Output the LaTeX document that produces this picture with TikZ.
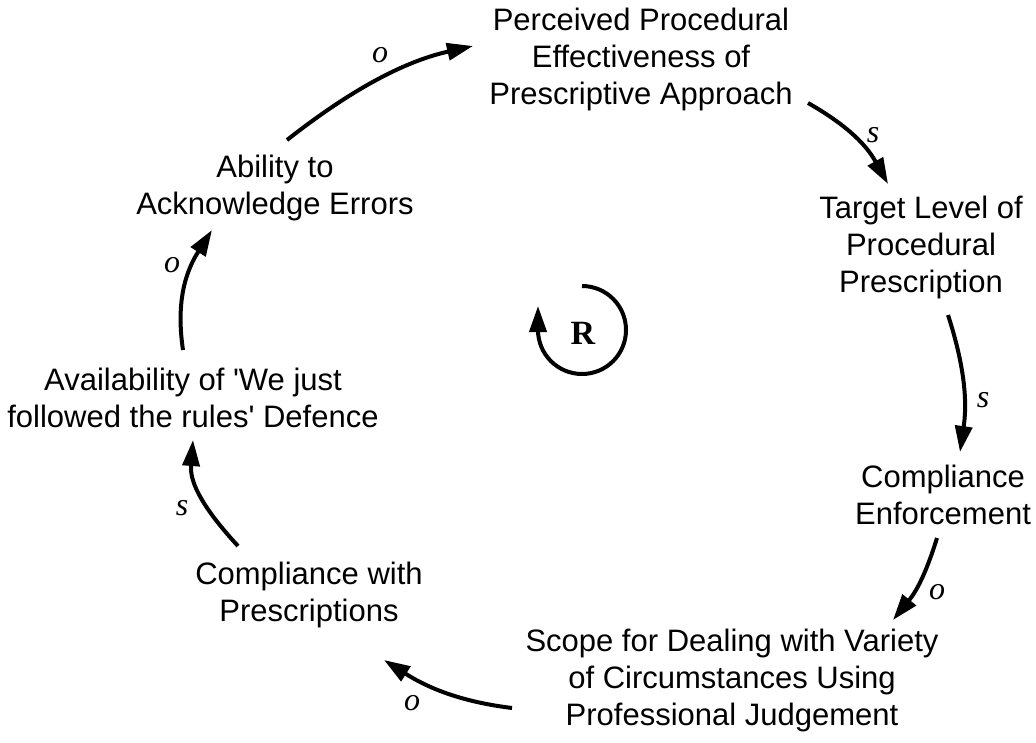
\documentclass[tikz,border=0pt]{standalone}
\usepackage{fontspec}
\setmainfont{Liberation Sans}
\newfontfamily\polfont{Liberation Serif}
\usetikzlibrary{arrows.meta,calc}
\begin{document}
\begin{tikzpicture}[x=1pt,y=-1pt,
  var/.style={align=center,inner sep=0pt,font=\fontsize{31}{37}\selectfont},
  link/.style={line width=4pt,-{Triangle[length=26pt,width=17pt]}},
  pol/.style={inner sep=0pt,font=\polfont\itshape\fontsize{32}{34}\selectfont}]
\useasboundingbox (0,0) rectangle (1036,743);
\fill[white] (0,0) rectangle (1036,743);
% variables
\node[var] (ppe) at (641,59) {Perceived Procedural\\Effectiveness of\\Prescriptive Approach};
\node[var] (tlp) at (921,247) {Target Level of\\Procedural\\Prescription};
\node[var] (ce) at (943,495) {Compliance\\Enforcement};
\node[var] (scope) at (732,680) {Scope for Dealing with Variety\\of Circumstances Using\\Professional Judgement};
\node[var] (cwp) at (309,595) {Compliance with\\Prescriptions};
\node[var] (avail) at (193,398) {Availability of \textquotesingle We just\\followed the rules\textquotesingle{} Defence};
\node[var] (able) at (275,188) {Ability to\\Acknowledge Errors};
% link end points and quadratic bend controls
\coordinate (a1) at (287,140); \coordinate (b1) at (473,46);  \coordinate (c1) at (380,67);
\coordinate (a2) at (808,103); \coordinate (b2) at (888,184); \coordinate (c2) at (859,132);
\coordinate (a3) at (948,315); \coordinate (b3) at (960,452); \coordinate (c3) at (970,383);
\coordinate (a4) at (937,538); \coordinate (b4) at (893,620); \coordinate (c4) at (923,583);
\coordinate (a5) at (512,708); \coordinate (b5) at (384,660); \coordinate (c5) at (447,700);
\coordinate (a6) at (238,546); \coordinate (b6) at (193,440); \coordinate (c6) at (189,493);
\coordinate (a7) at (183,350); \coordinate (b7) at (212,230); \coordinate (c7) at (174,290);
% links (quadratic curve to the arrowhead base, then straight into the tip)
\foreach \i in {1,...,7}{
  \coordinate (m\i) at ($(b\i)!26pt!(c\i)$);
  \draw[link] (a\i) .. controls ($(a\i)!0.6667!(c\i)$) and ($(m\i)!0.6667!(c\i)$) .. (m\i) -- (b\i);
}
% polarities
\node[pol] (p1) at (380,55) {o};
\node[pol] (p2) at (873,135) {s};
\node[pol] (p3) at (983,400) {s};
\node[pol] (p4) at (937,592) {o};
\node[pol] (p5) at (412,703) {o};
\node[pol] (p6) at (182,508) {s};
\node[pol] (p7) at (172,265) {o};
% loop marker
\coordinate (lc) at (582,286);
\draw[link] (lc) arc[start angle=-90,end angle=180,radius=44] -- ++(0,-24);
\node[inner sep=0pt,font=\polfont\bfseries\fontsize{34}{36}\selectfont] (R) at (583,333) {R};
\end{tikzpicture}
\end{document}
